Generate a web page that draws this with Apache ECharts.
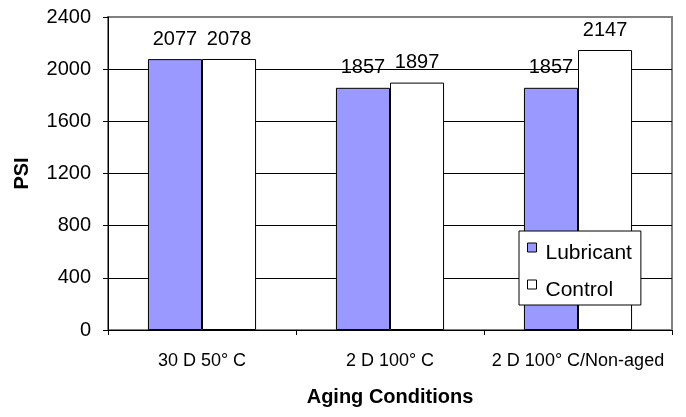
<!DOCTYPE html>
<html>
<head>
<meta charset="utf-8">
<script src="https://cdn.jsdelivr.net/npm/echarts@6/dist/echarts.min.js"></script>
<style>html,body{margin:0;padding:0;background:#fff}#c{width:686px;height:417px}</style>
</head>
<body>
<div id="c"></div>
<script>
var categories = ['30 D 50° C', '2 D 100° C', '2 D 100° C/Non-aged'];
var lubricant = [2077, 1857, 1857];
var control = [2078, 1897, 2147];
var yTicks = [0, 400, 800, 1200, 1600, 2000, 2400];

var font = 'Arial, "Liberation Sans", sans-serif';
var chart = echarts.init(document.getElementById('c'), null, {renderer: 'canvas'});
var labelStyle = {show: true, position: 'top', distance: 10, fontSize: 20, color: '#000', fontFamily: font};
chart.setOption({
  animation: false,
  backgroundColor: '#fff',
  textStyle: {fontFamily: font, color: '#000'},
  grid: {left: 108, right: 14, top: 17, bottom: 87, show: true, borderColor: '#808080', borderWidth: 2, backgroundColor: 'transparent'},
  legend: {
    orient: 'vertical', left: 519, top: 231,
    padding: [0, 9, 4, 8], itemGap: 4,
    itemWidth: 9, itemHeight: 9,
    backgroundColor: '#fff', borderColor: '#000', borderWidth: 1, borderRadius: 0,
    formatter: function (n) { return '{t|' + n + '}'; },
    textStyle: {fontSize: 21, fontFamily: font, color: '#000',
      rich: {t: {fontSize: 21, fontFamily: font, color: '#000', lineHeight: 18, padding: [12, 0, 0, 4]}}},
    icon: 'rect',
    data: [
      {name: 'Lubricant', itemStyle: {borderColor: '#000', borderWidth: 1}},
      {name: 'Control', itemStyle: {borderColor: '#000', borderWidth: 1}}
    ]
  },
  xAxis: {
    type: 'category',
    data: categories,
    axisLine: {lineStyle: {color: '#000', width: 1}},
    axisTick: {show: true, length: 5, lineStyle: {color: '#000'}},
    axisLabel: {fontSize: 18, color: '#000', margin: 22, interval: 0, fontFamily: font},
    name: 'Aging Conditions', nameLocation: 'middle', nameGap: 57,
    nameTextStyle: {fontSize: 20, fontWeight: 'bold', color: '#000', fontFamily: font}
  },
  yAxis: {
    type: 'value', min: yTicks[0], max: yTicks[yTicks.length - 1], interval: yTicks[1] - yTicks[0],
    axisLine: {show: true, lineStyle: {color: '#000', width: 1}},
    axisTick: {show: true, length: 5, lineStyle: {color: '#000'}},
    axisLabel: {fontSize: 20, color: '#000', margin: 17, fontFamily: font, formatter: function (v) { return String(v); }},
    splitLine: {show: true, lineStyle: {color: ['#000', '#000', '#000', '#000', '#000', '#000', 'rgba(0,0,0,0)'], width: 1}},
    name: 'PSI', nameLocation: 'middle', nameGap: 76, nameRotate: 90,
    nameTextStyle: {fontSize: 20, fontWeight: 'bold', color: '#000', fontFamily: font}
  },
  series: [
    {name: 'Lubricant', type: 'bar', data: lubricant, barGap: '0%', barCategoryGap: '42.5%',
      itemStyle: {color: '#9999FF', borderColor: '#000', borderWidth: 1},
      label: labelStyle},
    {name: 'Control', type: 'bar', data: control, barGap: '0%', barCategoryGap: '42.5%',
      itemStyle: {color: '#FFFFFF', borderColor: '#000', borderWidth: 1},
      label: labelStyle}
  ]
});
</script>
</body>
</html>
